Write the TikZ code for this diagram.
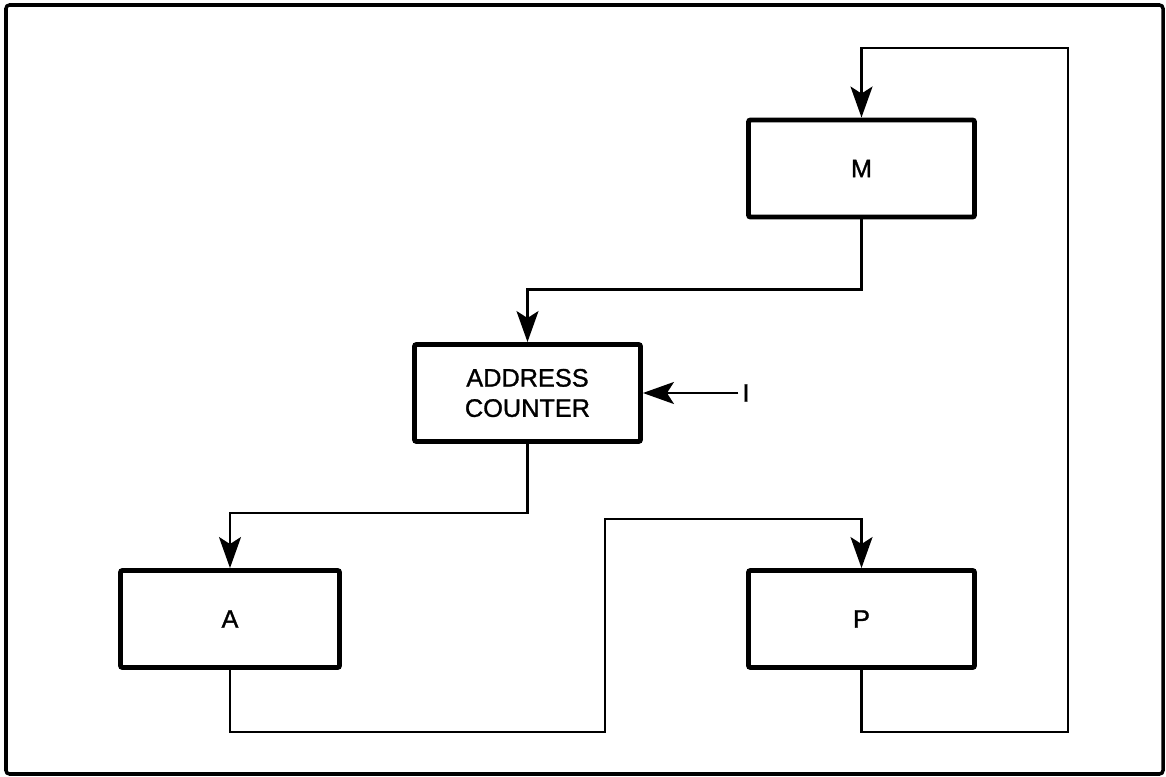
\documentclass[tikz,border=0pt]{standalone}
\usepackage{fontspec}
\setmainfont{Liberation Sans}
\newfontfamily\labelfont{Liberation Sans}[FakeBold=1.2]
\usetikzlibrary{arrows.meta}

\begin{document}
\begin{tikzpicture}[
    x=1cm, y=1cm,
    every node/.style={font=\labelfont\fontsize{7.2}{8.6}\selectfont},
    unit/.style={
        draw,
        line width=1.4pt,
        rounded corners=0.6pt,
        align=center,
        minimum width=2.26cm,
        minimum height=0.97cm
    },
    arr/.style={-{Stealth[length=3.1mm, width=2.2mm, inset=0.7mm]}, line width=0.6pt}
]

    % Frame
    \useasboundingbox (0,0) rectangle (11.66,-7.77);
    \draw[line width=1pt, rounded corners=1pt] (0.06,-0.05) rectangle (11.63,-7.74);

    % Units
    \node[unit] (mem) at (8.615, -1.685) {M};
    \node[unit] (addr) at (5.275, -3.93) {ADDRESS\\ COUNTER};
    \node[unit, minimum width=2.19cm] (acc) at (2.30, -6.19) {A};
    \node[unit] (prog) at (8.615, -6.19) {P};

    % Input
    \node[inner sep=1pt] (inp) at (7.46, -3.93) {I};

    % Corners of the long runs
    \coordinate (lowA) at (6.05, -7.32);
    \coordinate (highA) at (6.05, -5.19);
    \coordinate (lowP) at (10.68, -7.32);
    \coordinate (highP) at (10.68, -0.48);

    % Connections
    \draw[arr] (mem.south) -- ++(0,-0.70) -| (addr.north);
    \draw[arr] (inp.west) -- (addr.east);
    \draw[arr] (addr.south) -- ++(0,-0.69) -| (acc.north);
    \draw[arr] (acc.south) |- (lowA) -- (highA) -| (prog.north);
    \draw[arr] (prog.south) |- (lowP) -- (highP) -| (mem.north);

\end{tikzpicture}
\end{document}
